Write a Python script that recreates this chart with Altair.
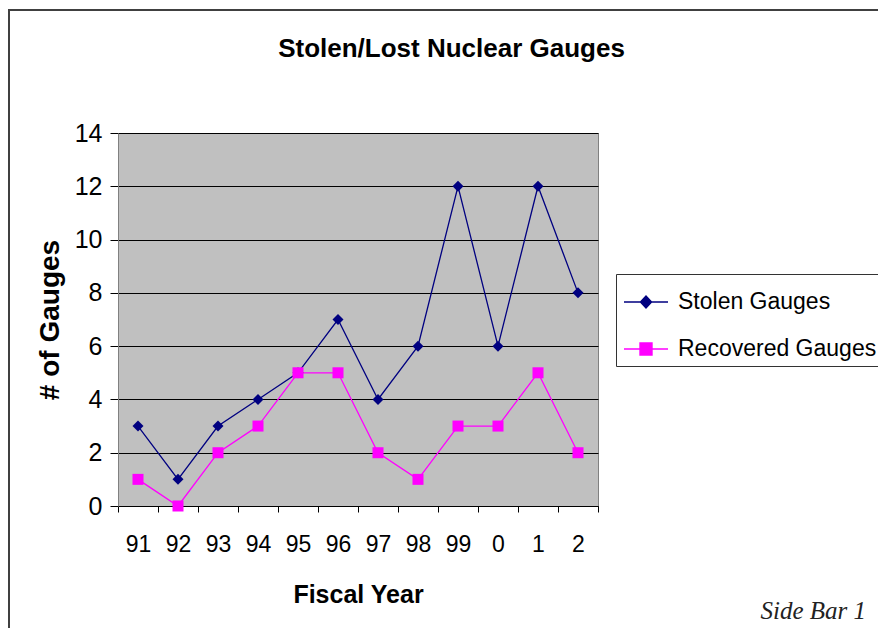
import altair as alt
import pandas as pd

years = ["91", "92", "93", "94", "95", "96", "97", "98", "99", "0", "1", "2"]
stolen = [3, 1, 3, 4, 5, 7, 4, 6, 12, 6, 12, 8]
recovered = [1, 0, 2, 3, 5, 5, 2, 1, 3, 3, 5, 2]
series_names = ["Stolen Gauges", "Recovered Gauges"]
series_colors = ["#000080", "#FF00FF"]
y_ticks = [0, 2, 4, 6, 8, 10, 12, 14]
title_text = "Stolen/Lost Nuclear Gauges"
note_text = "Side Bar 1"

rows = []
for yr, s, r in zip(years, stolen, recovered):
    rows.append({"year": yr, "series": series_names[0], "value": s})
    rows.append({"year": yr, "series": series_names[1], "value": r})
df = pd.DataFrame(rows)
legend_df = pd.DataFrame({"entry": series_names})
dummy = pd.DataFrame({"a": [0]})

FONT = "Liberation Sans"

x_enc = alt.X(
    "year:N", sort=years,
    scale=alt.Scale(type="band", paddingInner=0, paddingOuter=0),
    bandPosition=0.5,
    axis=alt.Axis(title="Fiscal Year", tickBand="extent", labelAngle=0,
                  labelFontSize=23, labelFont=FONT, labelColor="black",
                  labelPadding=21, tickSize=6, tickColor="black",
                  domainColor="black", titleFontSize=25, titleFont=FONT,
                  titleFontWeight="bold", titleColor="black", titlePadding=26,
                  grid=False),
)
y_enc = alt.Y(
    "value:Q",
    scale=alt.Scale(domain=[0, 14], nice=False),
    axis=alt.Axis(values=y_ticks, title="# of Gauges", grid=True,
                  gridColor="black", gridWidth=1, gridOpacity=1,
                  tickSize=8, tickColor="black", labelPadding=8,
                  labelFontSize=25, labelFont=FONT, labelColor="black",
                  titleFontSize=28, titleFont=FONT, titleFontWeight="bold",
                  titleColor="black", titlePadding=10, domainColor="#808080"),
)
color_enc = alt.Color("series:N",
                      scale=alt.Scale(domain=series_names, range=series_colors),
                      legend=None)

frame = alt.Chart(dummy).mark_rect(fillOpacity=0, stroke="#404040", strokeWidth=2).encode(
    x=alt.value(-109), x2=alt.value(800), y=alt.value(-123), y2=alt.value(700))

lines = alt.Chart(df).mark_line(strokeWidth=1.3).encode(x=x_enc, y=y_enc, color=color_enc)

points = alt.Chart(df).mark_point(filled=True, opacity=1, size=121).encode(
    x=x_enc, y=y_enc, color=color_enc,
    shape=alt.Shape("series:N",
                    scale=alt.Scale(domain=series_names, range=["diamond", "square"]),
                    legend=None))

diamond_path = "M-1,0H1M-0.25,0L0,-0.27L0.25,0L0,0.27Z"
square_path = "M-1,0H1M-0.27,-0.27H0.27V0.27H-0.27Z"

leg = alt.Legend(title=None, orient="none", legendX=498, legendY=141,
                 labelFontSize=23, labelFont=FONT, labelColor="black",
                 symbolSize=1936, symbolStrokeWidth=1.5, symbolOpacity=1,
                 labelOffset=9, padding=5, rowPadding=12, symbolOffset=2,
                 strokeColor="#333333", fillColor="white", labelLimit=400)

legend_layer = alt.Chart(legend_df).mark_point(filled=True, opacity=1, clip=True).encode(
    x=alt.value(-1000), y=alt.value(-1000),
    color=alt.Color("entry:N", scale=alt.Scale(domain=series_names, range=series_colors), legend=leg),
    stroke=alt.Stroke("entry:N", scale=alt.Scale(domain=series_names, range=series_colors), legend=leg),
    shape=alt.Shape("entry:N", scale=alt.Scale(domain=series_names, range=[diamond_path, square_path]), legend=leg),
)

title = alt.Chart(dummy).mark_text(text=title_text, font=FONT, fontWeight="bold",
                                   fontSize=26, align="center", baseline="alphabetic",
                                   color="black").encode(x=alt.value(333.5), y=alt.value(-76))

side = alt.Chart(dummy).mark_text(text=note_text, font="Liberation Serif", fontStyle="italic",
                                  fontSize=25, align="right", baseline="middle",
                                  color="#222222").encode(x=alt.value(748), y=alt.value(478))

chart = alt.layer(frame, lines, points, legend_layer, title, side).resolve_scale(
    color="independent", shape="independent", stroke="independent"
).properties(
    width=480, height=373,
    autosize=alt.AutoSizeParams(type="none"),
    padding={"left": 110, "top": 125, "right": 280, "bottom": 122},
).configure_view(fill="#C0C0C0", stroke="#808080", strokeWidth=1)

chart.save("out.html", embed_options={"renderer": "svg", "actions": False})
